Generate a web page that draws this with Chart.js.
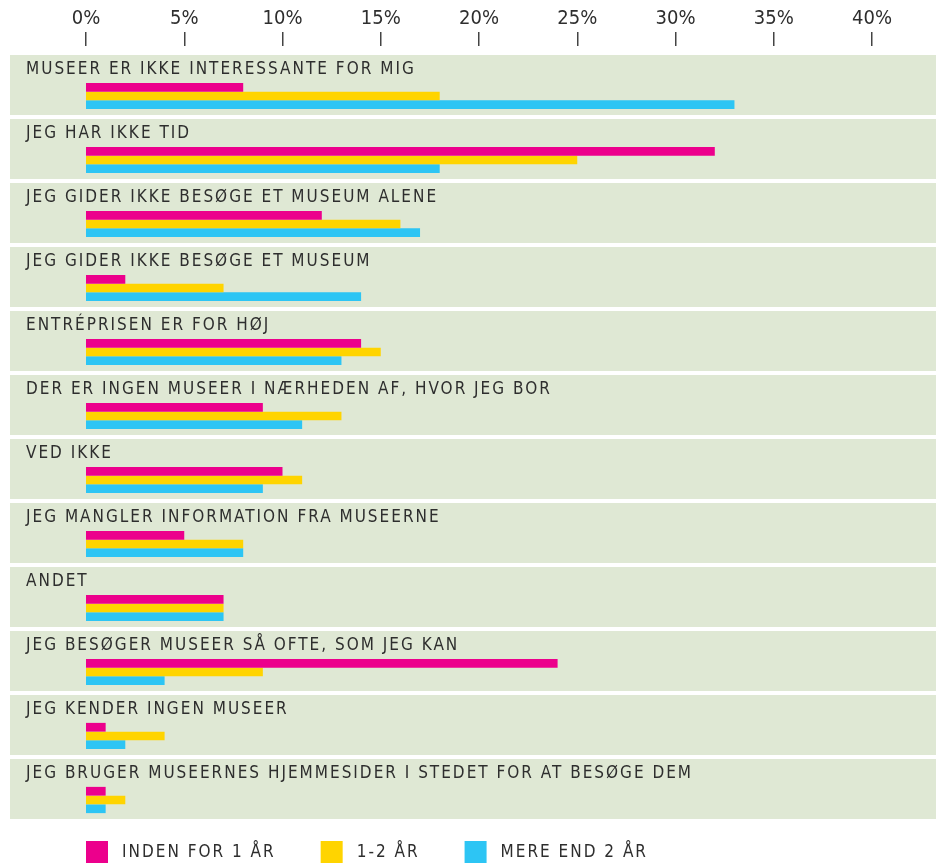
<!DOCTYPE html>
<html>
<head>
<meta charset="utf-8">
<script src="https://cdn.jsdelivr.net/npm/chart.js@4.4.1/dist/chart.umd.min.js"></script>
<style>
html, body { margin: 0; padding: 0; background: #fff; }
</style>
</head>
<body>
<canvas id="chart" width="936" height="863"></canvas>
<script>
// Svar pr. kategori (procent)
const categories = [
    'MUSEER ER IKKE INTERESSANTE FOR MIG',
    'JEG HAR IKKE TID',
    'JEG GIDER IKKE BESØGE ET MUSEUM ALENE',
    'JEG GIDER IKKE BESØGE ET MUSEUM',
    'ENTRÉPRISEN ER FOR HØJ',
    'DER ER INGEN MUSEER I NÆRHEDEN AF, HVOR JEG BOR',
    'VED IKKE',
    'JEG MANGLER INFORMATION FRA MUSEERNE',
    'ANDET',
    'JEG BESØGER MUSEER SÅ OFTE, SOM JEG KAN',
    'JEG KENDER INGEN MUSEER',
    'JEG BRUGER MUSEERNES HJEMMESIDER I STEDET FOR AT BESØGE DEM'
];
const indenFor1Aar = [8, 32, 12, 2, 14, 9, 10, 5, 7, 24, 1, 1];
const fra1Til2Aar = [18, 25, 16, 7, 15, 13, 11, 8, 7, 9, 4, 2];
const mereEnd2Aar = [33, 18, 17, 14, 13, 11, 9, 8, 7, 4, 2, 1];
const seriesNames = ['INDEN FOR 1 ÅR', '1-2 ÅR', 'MERE END 2 ÅR'];
const seriesColors = ['#ec008c', '#ffd400', '#2dc5f4'];
const tickMin = 0;
const tickMax = 40;
const tickStep = 5;

const FONT = "'Liberation Sans Narrow', 'DejaVu Sans Condensed', 'Roboto', sans-serif";
const TEXT_COLOR = '#2e2e2e';
const PANEL_COLOR = '#dfe8d4';

// baggrundsfelter og etiketter for hver kategori
const panelPlugin = {
    id: 'panels',
    beforeDatasetsDraw(chart) {
        const ctx = chart.ctx;
        const y = chart.scales.y;
        const band = (chart.chartArea.bottom - chart.chartArea.top) / categories.length;
        ctx.save();
        categories.forEach((cat, i) => {
            const c = y.getPixelForValue(i);
            const top = c - band / 2 - 9;
            ctx.fillStyle = PANEL_COLOR;
            ctx.fillRect(10, top, chart.width - 10, band - 4);
            ctx.fillStyle = TEXT_COLOR;
            ctx.font = '17px ' + FONT;
            ctx.letterSpacing = '2px';
            ctx.textBaseline = 'middle';
            ctx.textAlign = 'left';
            ctx.fillText(cat, 26, top + 15);
        });
        ctx.restore();
    }
};

// forklaring nederst
const legendPlugin = {
    id: 'bottomLegend',
    afterDraw(chart) {
        const ctx = chart.ctx;
        let x = chart.chartArea.left;
        const top = chart.chartArea.bottom + 9;
        ctx.save();
        ctx.font = '17px ' + FONT;
        ctx.letterSpacing = '2px';
        ctx.textBaseline = 'middle';
        ctx.textAlign = 'left';
        seriesNames.forEach((name, i) => {
            ctx.fillStyle = seriesColors[i];
            ctx.fillRect(x, top, 22, 22);
            ctx.fillStyle = TEXT_COLOR;
            ctx.fillText(name, x + 36, top + 12);
            x += 36 + ctx.measureText(name).width + 45;
        });
        ctx.restore();
    }
};

const ctx = document.getElementById('chart').getContext('2d');
new Chart(ctx, {
    type: 'bar',
    data: {
        labels: categories,
        datasets: [indenFor1Aar, fra1Til2Aar, mereEnd2Aar].map((d, i) => ({
            label: seriesNames[i],
            data: d,
            backgroundColor: seriesColors[i],
            borderWidth: 0,
            categoryPercentage: 0.41,
            barPercentage: 1.0
        }))
    },
    options: {
        indexAxis: 'y',
        responsive: false,
        animation: false,
        devicePixelRatio: 1,
        layout: { padding: { left: 86, right: 64, top: 0, bottom: 31 } },
        scales: {
            y: { display: false },
            x: {
                position: 'top',
                min: tickMin,
                max: tickMax,
                grid: { display: false },
                border: { display: false },
                ticks: { display: false },
                afterFit(scale) { scale.height = 18; }
            },
            x2: {
                type: 'linear',
                position: 'top',
                weight: 1,
                min: tickMin,
                max: tickMax,
                grid: { drawOnChartArea: false, drawTicks: true, tickLength: 14, color: '#444', lineWidth: 1.5 },
                border: { display: false },
                ticks: {
                    stepSize: tickStep,
                    padding: 1,
                    color: TEXT_COLOR,
                    font: { family: FONT, size: 20 },
                    callback: v => v + '%'
                },
                afterFit(scale) { scale.height = 46; }
            }
        },
        plugins: {
            legend: { display: false },
            tooltip: { enabled: false }
        }
    },
    plugins: [panelPlugin, legendPlugin]
});
</script>
</body>
</html>
